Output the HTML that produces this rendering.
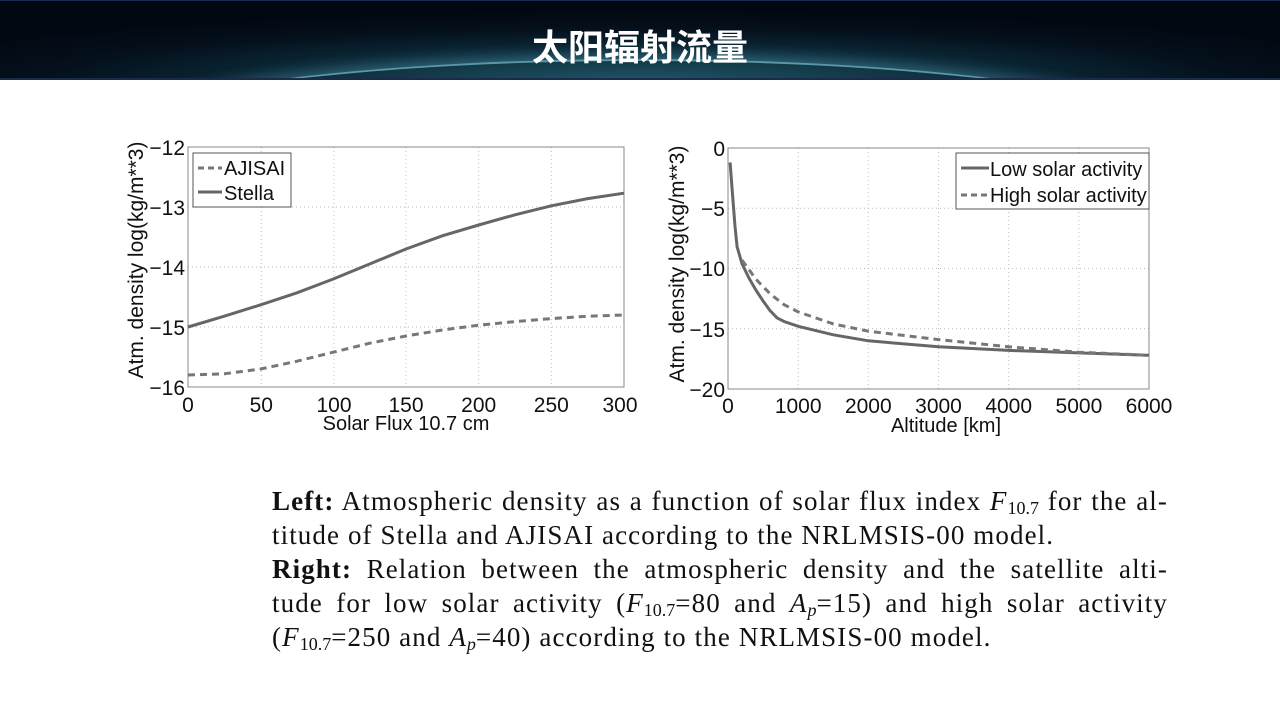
<!DOCTYPE html>
<html><head><meta charset="utf-8"><style>
body{margin:0;width:1280px;height:720px;background:#fff;overflow:hidden;position:relative;font-family:"Liberation Sans",sans-serif}
.hdr{position:absolute;left:0;top:0;width:1280px;height:80px;background:radial-gradient(ellipse 800px 70px at 640px 80px,#1f5566 0%,#0c2a38 45%,#04101c 75%,#020811 100%);border-top:1px solid #1c2c50;border-bottom:2px solid #1a2a4a;box-sizing:border-box;overflow:hidden}
.arc{position:absolute;left:40px;top:58px;width:1200px;height:200px;border-radius:50%;border-top:2px solid #5a98a8;box-shadow:0 -4px 14px rgba(90,170,200,.4)}
.title{position:absolute;left:0;width:1280px;top:18px;text-align:center;color:#fff;font:bold 36px "Liberation Sans","Noto Sans CJK SC",sans-serif;letter-spacing:0px}
.cap{position:absolute;left:272px;width:896px;top:484px;font:27px/34px "Liberation Serif",serif;color:#111;letter-spacing:1.1px}
.cap div{text-align:justify;text-align-last:justify;white-space:nowrap}
.cap div.l{text-align-last:left}
sub{font-size:18px;vertical-align:-4px;line-height:0;letter-spacing:0}
i{font-style:italic}
</style></head><body>
<div class="hdr"><div class="arc"></div><div class="title">太阳辐射流量</div></div>
<svg width="1280" height="720" style="position:absolute;left:0;top:0" font-family="Liberation Sans, sans-serif">
<g stroke="#bbb" stroke-dasharray="1,3" stroke-width="1">
<path d="M261.3 147V387M334 147V387M406 147V387M478.7 147V387M551.3 147V387M188 207H624M188 267H624M188 327H624"/>
<path d="M798.2 148V389M868.3 148V389M938.5 148V389M1008.7 148V389M1078.9 148V389M728 208.2H1149M728 268.5H1149M728 328.8H1149"/>
</g>
<g fill="none" stroke="#888" stroke-width="1">
<rect x="188" y="147" width="436" height="240"/>
<rect x="728" y="148" width="421" height="241"/>
</g>
<g fill="none" stroke="#666" stroke-width="3">
<polyline points="188,327 224.3,316.2 260.7,304.8 297,292.8 333.3,279 369.7,264 406,249 442.3,235.8 478.7,225 515,214.8 551.3,205.8 587.7,198.6 624,193.2"/>
<polyline stroke="#777" stroke-dasharray="7,5" points="188,375 224.3,373.8 260.7,369 297,361.2 333.3,352.2 369.7,343.2 406,336 442.3,330 478.7,325.2 515,321.6 551.3,318.6 587.7,316.2 624,315"/>
<polyline points="730.1,162.5 732.2,190.2 735,226.3 737.1,246.8 742,263.7 749,278.1 756,290.2 763.1,301 770.1,310.7 777.1,317.9 784.1,321.5 798.2,326.3 833.3,334.8 868.3,340.8 938.5,346.8 1008.7,350.4 1078.9,352.9 1149,355.3"/>
<polyline stroke="#777" stroke-dasharray="7,5" points="742,260.1 756,279.3 770.1,293.8 784.1,304.7 798.2,311.9 833.3,323.9 868.3,331.2 938.5,339.6 1008.7,346.8 1078.9,352.2 1149,355.3"/>
</g>
<rect x="193" y="153" width="98" height="54" fill="#fff" stroke="#555"/>
<path d="M198 168H222" stroke="#777" stroke-width="3" stroke-dasharray="6,4"/>
<path d="M198 192H222" stroke="#666" stroke-width="3"/>
<text x="224" y="175" font-size="20" fill="#111">AJISAI</text>
<text x="224" y="200" font-size="20" fill="#111">Stella</text>
<rect x="956" y="153" width="193" height="56" fill="#fff" stroke="#555"/>
<path d="M961 168H989" stroke="#666" stroke-width="3"/>
<path d="M961 195H989" stroke="#777" stroke-width="3" stroke-dasharray="6,4"/>
<text x="990" y="176" font-size="20" fill="#111">Low solar activity</text>
<text x="990" y="202" font-size="20" fill="#111">High solar activity</text>
<g font-size="21" fill="#111" text-anchor="end">
<text x="185" y="155">−12</text><text x="185" y="215">−13</text><text x="185" y="275">−14</text><text x="185" y="335">−15</text><text x="185" y="395">−16</text>
<text x="725" y="156">0</text><text x="725" y="216">−5</text><text x="725" y="276">−10</text><text x="725" y="337">−15</text><text x="725" y="397">−20</text>
</g>
<g font-size="21" fill="#111" text-anchor="middle">
<text x="188" y="412">0</text><text x="261.3" y="412">50</text><text x="334" y="412">100</text><text x="406" y="412">150</text><text x="478.7" y="412">200</text><text x="551.3" y="412">250</text><text x="620" y="412">300</text>
<text x="406" y="430" font-size="20">Solar Flux 10.7 cm</text>
<text x="728" y="413">0</text><text x="798.2" y="413">1000</text><text x="868.3" y="413">2000</text><text x="938.5" y="413">3000</text><text x="1008.7" y="413">4000</text><text x="1078.9" y="413">5000</text><text x="1149" y="413">6000</text>
<text x="946" y="432" font-size="20">Altitude [km]</text>
<text font-size="21" transform="translate(143,260) rotate(-90)">Atm. density log(kg/m**3)</text>
<text font-size="21" transform="translate(684,264) rotate(-90)">Atm. density log(kg/m**3)</text>
</g>
</svg>
<div class="cap">
<div><b>Left:</b> Atmospheric density as a function of solar flux index <i>F</i><sub>10.7</sub> for the al-</div>
<div class="l">titude of Stella and AJISAI according to the NRLMSIS-00 model.</div>
<div><b>Right:</b> Relation between the atmospheric density and the satellite alti-</div>
<div>tude for low solar activity (<i>F</i><sub>10.7</sub>=80 and <i>A<sub>p</sub></i>=15) and high solar activity</div>
<div class="l">(<i>F</i><sub>10.7</sub>=250 and <i>A<sub>p</sub></i>=40) according to the NRLMSIS-00 model.</div>
</div>
</body></html>
